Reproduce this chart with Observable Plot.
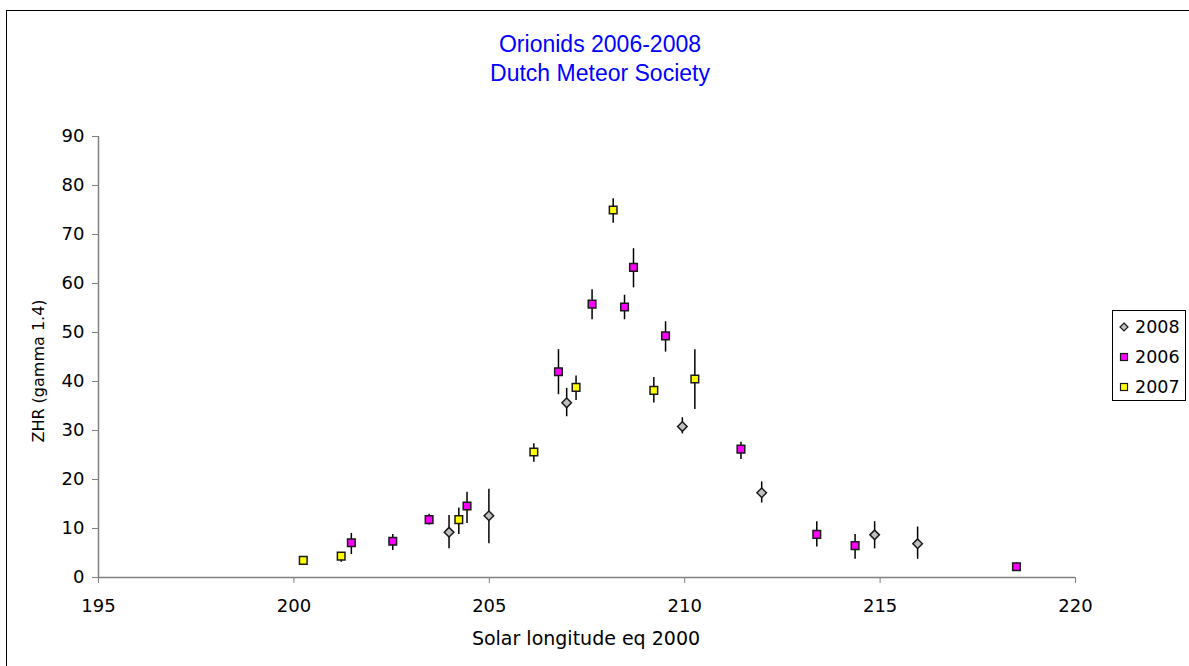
<!DOCTYPE html>
<html>
<head>
<meta charset="utf-8">
<script src="https://cdn.jsdelivr.net/npm/d3@7"></script>
<script src="https://cdn.jsdelivr.net/npm/@observablehq/plot@0.6"></script>
<style>
  body { margin: 0; background: #fff; }
  #wrap { position: relative; width: 1189px; height: 666px; overflow: hidden; background: #fff; font-family: "DejaVu Sans", sans-serif; }
  #wrap svg.plot, #wrap > svg { position: absolute; left: 0; top: 0; }
  #frame { position: absolute; left: 6px; top: 10px; width: 1400px; height: 900px; border-left: 1px solid #000; border-top: 1px solid #000; pointer-events: none; }
  .title { position: absolute; left: 400px; width: 400px; text-align: center; color: #0000ff; font-family: "Liberation Sans", Arial, sans-serif; font-size: 23px; line-height: 29px; top: 30px; white-space: nowrap; }
  .xtitle { position: absolute; left: 386px; width: 400px; text-align: center; top: 627px; font-size: 19px; color: #000; white-space: nowrap; }
  .ytitle { position: absolute; left: 38px; top: 371px; font-size: 16px; color: #000; white-space: nowrap; transform: translate(-50%, -50%) rotate(-90deg); }
  #legend { position: absolute; left: 1112px; top: 310px; width: 74px; height: 91px; box-sizing: border-box; border: 1px solid #000; background: #fff; }
  #legend .row { position: absolute; left: 0; height: 24px; display: flex; align-items: center; font-size: 17.5px; color: #000; }
  #legend svg { margin-left: 6px; margin-right: 6px; }
  g[aria-label="x-axis tick"], g[aria-label="y-axis tick"] { stroke: #808080; }
  g.tick line { stroke: #808080; }
</style>
</head>
<body>
<div id="wrap"></div>
<script>
// ---- data ----
const seriesNames = ["2008", "2006", "2007"];

const lon2008 = [203.97, 204.99, 206.98, 209.94, 211.97, 214.86, 215.96];
const zhr2008 = [9.25, 12.6, 35.65, 30.8, 17.3, 8.7, 6.9];
const lo2008  = [5.85, 6.9, 32.8, 29.3, 15.2, 5.85, 3.7];
const hi2008  = [12.65, 18.0, 38.6, 32.6, 19.5, 11.4, 10.3];

const lon2006 = [201.47, 202.53, 203.46, 204.43, 206.77, 207.63, 208.46, 208.69, 209.51, 211.44, 213.38, 214.36, 218.49];
const zhr2006 = [7.1, 7.4, 11.8, 14.6, 42.0, 55.8, 55.2, 63.3, 49.3, 26.2, 8.8, 6.5, 2.2];
const lo2006  = [4.7, 5.5, 10.7, 11.0, 37.3, 52.6, 52.6, 59.1, 46.0, 24.1, 6.2, 3.7, 1.3];
const hi2006  = [9.0, 8.8, 12.9, 17.4, 46.5, 58.7, 57.6, 67.1, 52.2, 27.6, 11.4, 8.8, 3.0];

const lon2007 = [200.24, 201.21, 204.22, 206.14, 207.22, 208.17, 209.21, 210.26];
const zhr2007 = [3.5, 4.35, 11.8, 25.6, 38.8, 75.0, 38.2, 40.5];
const lo2007  = [2.5, 3.1, 8.8, 23.5, 36.1, 72.3, 35.6, 34.3];
const hi2007  = [4.1, 5.0, 14.2, 27.3, 41.1, 77.3, 40.8, 46.5];

const xTicks = [195, 200, 205, 210, 215, 220];
const yTicks = [0, 10, 20, 30, 40, 50, 60, 70, 80, 90];

const titleLines = ["Orionids 2006-2008", "Dutch Meteor Society"];
const xLabel = "Solar longitude eq 2000";
const yLabel = "ZHR (gamma 1.4)";

// ---- styles per series ----
const styles = {
  "2008": {symbol: "diamond2", fill: "#c0c0c0", r: 4.3},
  "2006": {symbol: "square", fill: "#ff00ff", r: 4.3},
  "2007": {symbol: "square", fill: "#ffff00", r: 4.3}
};

function table(lon, zhr, lo, hi) {
  return lon.map((x, i) => ({x, y: zhr[i], lo: lo[i], hi: hi[i]}));
}
const data = {
  "2008": table(lon2008, zhr2008, lo2008, hi2008),
  "2006": table(lon2006, zhr2006, lo2006, hi2006),
  "2007": table(lon2007, zhr2007, lo2007, hi2007)
};

const seriesMarks = seriesNames.flatMap(name => [
  Plot.ruleX(data[name], {x: "x", y1: "lo", y2: "hi", stroke: "#000", strokeWidth: 1.5}),
  Plot.dot(data[name], {x: "x", y: "y", symbol: () => styles[name].symbol, r: styles[name].r,
    fill: styles[name].fill, stroke: "#1a1a1a", strokeWidth: 1.5})
]);

const chart = Plot.plot({
  width: 1189,
  height: 666,
  marginLeft: 98,
  marginRight: 114,
  marginTop: 136,
  marginBottom: 89,
  style: {fontFamily: "DejaVu Sans", fontSize: "18px", color: "#000", background: "transparent", overflow: "visible"},
  x: {domain: [195, 220], ticks: xTicks, tickSize: 6, tickPadding: 16, label: null, tickFormat: d => String(d)},
  y: {domain: [0, 90], ticks: yTicks, tickSize: 6, tickPadding: 8, label: null, tickFormat: d => String(d)},
  marks: [
    Plot.ruleY([0], {stroke: "#808080", strokeWidth: 1.5}),
    Plot.ruleX([195], {stroke: "#808080", strokeWidth: 1.5}),
    ...seriesMarks
  ]
});

const wrap = document.getElementById("wrap");
wrap.appendChild(chart);

const frame = document.createElement("div");
frame.id = "frame";
wrap.appendChild(frame);

const title = document.createElement("div");
title.className = "title";
title.innerHTML = titleLines.join("<br>");
wrap.appendChild(title);

const xt = document.createElement("div");
xt.className = "xtitle";
xt.textContent = xLabel;
wrap.appendChild(xt);

const yt = document.createElement("div");
yt.className = "ytitle";
yt.textContent = yLabel;
wrap.appendChild(yt);

// legend
const legend = document.createElement("div");
legend.id = "legend";
const rowTops = [4, 34, 64];
seriesNames.forEach((name, i) => {
  const row = document.createElement("div");
  row.className = "row";
  row.style.top = rowTops[i] + "px";
  const st = styles[name];
  const shape = st.symbol === "square"
    ? `<rect x="1.5" y="1.5" width="7" height="7" fill="${st.fill}" stroke="#1a1a1a" stroke-width="1.2"/>`
    : `<path d="M5,1 L9,5 L5,9 L1,5 Z" fill="${st.fill}" stroke="#1a1a1a" stroke-width="1.2"/>`;
  row.innerHTML = `<svg width="10" height="10">${shape}</svg><span>${name}</span>`;
  legend.appendChild(row);
});
wrap.appendChild(legend);
</script>
</body>
</html>
